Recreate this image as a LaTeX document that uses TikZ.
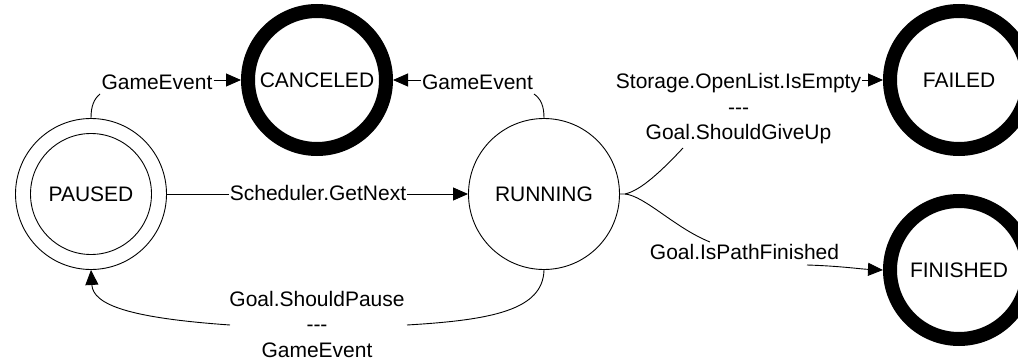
\documentclass[tikz,border=0pt]{standalone}
\usepackage{fontspec}
\setmainfont{Liberation Sans}
\usetikzlibrary{arrows.meta}
\newcommand{\tridash}{-\kern0pt-\kern0pt-}
\begin{document}
\begin{tikzpicture}[x=1pt,y=-1pt,
  every node/.style={font=\fontsize{21}{25.5}\selectfont},
  state/.style={circle,draw,line width=0.9pt,minimum size=151pt,inner sep=0pt},
  innerstate/.style={circle,draw,line width=0.9pt,minimum size=121pt,inner sep=0pt},
  final/.style={circle,draw,line width=14pt,minimum size=138pt,inner sep=0pt},
  lbl/.style={inner sep=1pt,align=center},
  conn/.style={line width=0.9pt},
  arr/.style={conn,-{Triangle[length=15pt,width=13pt]}}]
\useasboundingbox (0,0) rectangle (1018,361);

% states
\node[state] (paused) at (91,194) {};
\node[innerstate] (pausedin) at (paused.center) {PAUSED};
\node[final] (canceled) at (317,80) {CANCELED};
\node[state] (running) at (544,194) {RUNNING};
\node[final] (failed) at (959,80) {FAILED};
\node[final] (finished) at (959,270) {FINISHED};

% labels
\node[lbl] (lg1) at (157,82) {GameEvent};
\node[lbl] (lg2) at (477.5,82) {GameEvent};
\node[lbl] (lsched) at (318,192.5) {Scheduler.GetNext};
\node[lbl] (lpause) at (317,324) {Goal.ShouldPause\\\tridash\\GameEvent};
\node[lbl] (lfail) at (738.5,109) {Storage.OpenList.IsEmpty\\\tridash\\Goal.ShouldGiveUp};
\node[lbl] (lfin) at (744.5,251.5) {Goal.IsPathFinished};

% free ends of connectors (at labels)
\coordinate (a1) at (100,94);
\coordinate (a2) at (534,94);
\coordinate (p1) at (407,325);
\coordinate (p2) at (230,325);
\coordinate (r0) at (625,194);
\coordinate (f1) at (683,148);
\coordinate (f2) at (862,80);
\coordinate (g1) at (710,242);
\coordinate (g2) at (807,265);

% PAUSED -> CANCELED
\draw[conn] (paused.north) .. controls (91,106) and (94,99) .. (a1);
\draw[arr] (lg1.east |- canceled.west) -- (canceled.west);
% RUNNING -> CANCELED
\draw[conn] (running.north) .. controls (544,106) and (541,99) .. (a2);
\draw[arr] (lg2.west |- canceled.east) -- (canceled.east);
% PAUSED -> RUNNING
\draw[conn] (paused.east) -- (paused.east -| lsched.west);
\draw[arr] (lsched.east |- running.west) -- (running.west);
% RUNNING -> PAUSED
\draw[conn] (running.south) .. controls (543,310) and (492,320) .. (p1);
\draw[arr] (p2) .. controls (130,318) and (93,305) .. (paused.south);
% RUNNING -> FAILED
\draw[conn] (running.east) -- (r0) .. controls (638,191) and (655,178) .. (f1);
\draw[arr] (f2) -- (failed.west);
% RUNNING -> FINISHED
\draw[conn] (r0) .. controls (645,196) and (675,228) .. (g1);
\draw[arr] (g2) .. controls (840,266) and (860,269) .. (finished.west);
\end{tikzpicture}
\end{document}
